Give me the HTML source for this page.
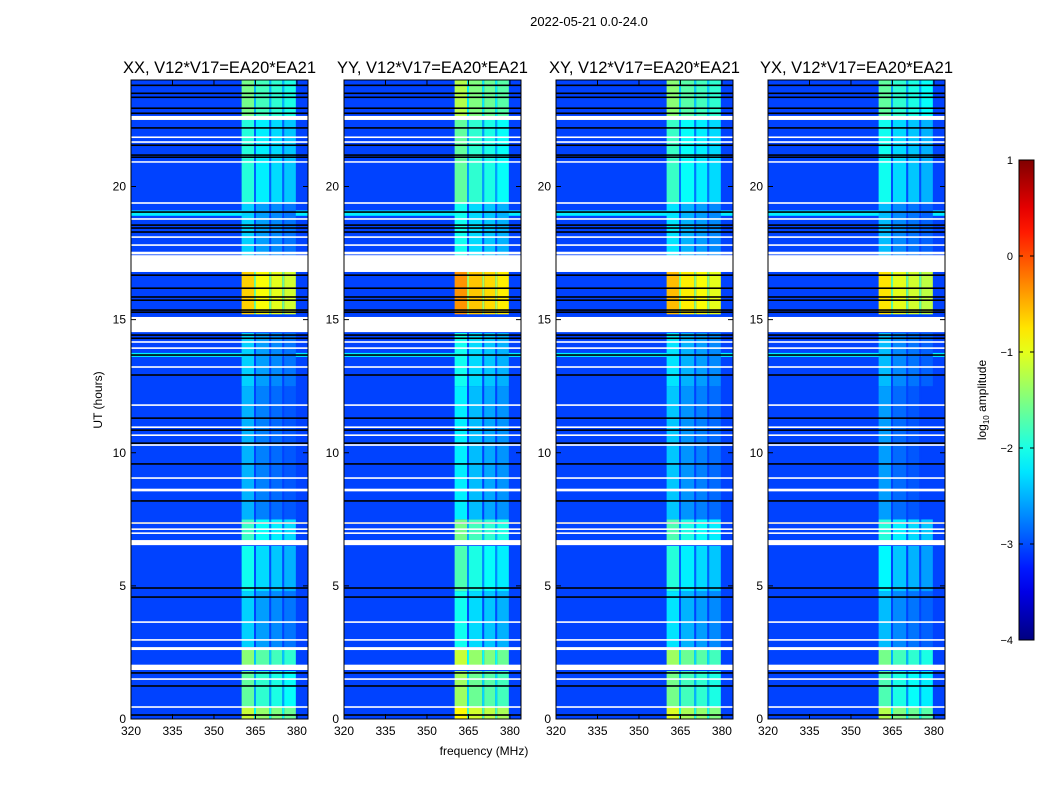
<!DOCTYPE html>
<html><head><meta charset="utf-8">
<style>
body{margin:0;background:#fff;width:1050px;height:800px;overflow:hidden;font-family:"Liberation Sans","DejaVu Sans",sans-serif;}
svg text{font-family:"Liberation Sans","DejaVu Sans",sans-serif;}
</style></head>
<body>
<svg id="fig" width="1050" height="800" xmlns="http://www.w3.org/2000/svg">
<text x="589" y="26" font-size="13" text-anchor="middle">2022-05-21 0.0-24.0</text>
<text x="484" y="755" font-size="12" text-anchor="middle">frequency (MHz)</text>
<text x="102" y="400" font-size="12" text-anchor="middle" transform="rotate(-90 102 400)">UT (hours)</text>
<g id="panels"></g>
<g id="cbar"></g>
</svg>
<script>
// ---- data ----
const panelNames = ["XX, V12*V17=EA20*EA21","YY, V12*V17=EA20*EA21","XY, V12*V17=EA20*EA21","YX, V12*V17=EA20*EA21"];
const panelOffsets = [0, 0.3, 0.1, -0.1];
const baseLevel = -3.05;
// RFI time segments: [startHour, endHour, log10 amplitude in RFI band]
const rfiSegments = [[0,0.45,-1.4],[0.45,1.8,-1.9],[1.9,2.6,-1.7],[2.7,4.8,-2.6],[4.8,6.5,-2.3],[6.7,7.5,-2.1],[7.5,12.5,-2.75],[12.5,14.5,-2.6],[15.2,16.8,-0.9],[17.4,19.4,-2.6],[19.4,21,-2.2],[21,22.6,-2.2],[22.6,24,-1.8]];
// frequency sub-bands: [startMHz, endMHz, offset]
const freqBands = [[360,364.5,0.25],[364.5,365.2,-0.7],[365.2,370,0],[370,370.7,-0.7],[370.7,374.7,-0.1],[374.7,375.4,-0.7],[375.4,379.6,-0.2]];
// broadband enhanced rows: [start, end, level]
const broadRows = [[18.9,19.1,-2.2],[13.6,13.75,-2.2]];
// flagged (white) time ranges
const flagged = [[22.5,22.65],[21.82,21.88],[21.64,21.7],[20.9,20.95],[19.35,19.41],[18.75,18.81],[18.07,18.13],[17.77,17.83],[17.45,17.55],[16.79,17.42],[14.53,15.1],[14.13,14.19],[13.9,13.96],[13.19,13.25],[11.76,11.82],[10.93,10.99],[10.63,10.69],[10.26,10.32],[9.02,9.08],[8.55,8.65],[7.33,7.39],[7.1,7.16],[6.95,7.01],[6.53,6.72],[3.61,3.67],[2.94,3.0],[2.59,2.7],[1.84,2.04],[1.47,1.53],[0.42,0.48]];
// black (zero) rows
const blackRows = [23.8,23.5,23.35,22.94,22.75,22.2,21.55,21.18,21.1,19.04,18.55,18.44,18.29,16.67,16.18,15.85,15.73,15.36,15.28,14.42,14.3,13.67,12.92,11.3,10.85,10.36,9.58,8.19,7.36,4.92,4.58,1.73,1.24,0.15];
const xTicks = [320,335,350,365,380];
const yTicks = [0,5,10,15,20];
const cbTicks = [1,0,-1,-2,-3,-4];
// ---- layout ----
const panelX = [131,344,556,768], pw = 177, axTop = 80, axBottom = 719;
const fMin = 320, fMax = 384, tMax = 24;
const NS = "http://www.w3.org/2000/svg";
function jet(v){
  const r = Math.min(Math.max(Math.min(4*v-1.5,-4*v+4.5),0),1);
  const g = Math.min(Math.max(Math.min(4*v-0.5,-4*v+3.5),0),1);
  const b = Math.min(Math.max(Math.min(4*v+0.5,-4*v+2.5),0),1);
  return `rgb(${Math.round(r*255)},${Math.round(g*255)},${Math.round(b*255)})`;
}
function col(lv){ return jet((lv+4)/5); }
function mk(tag, attrs, parent){ const e=document.createElementNS(NS,tag); for(const k in attrs) e.setAttribute(k,attrs[k]); parent.appendChild(e); return e; }
const G = document.getElementById('panels');
panelNames.forEach((name,pi)=>{
  const x0 = panelX[pi];
  const sx = f => x0 + (f-fMin)/(fMax-fMin)*pw;
  const sy = t => axBottom - t/tMax*(axBottom-axTop);
  const g = mk('g',{},G);
  
  
  const bg = mk('rect',{x:x0,y:axTop,width:pw,height:axBottom-axTop,fill:col(baseLevel)},g);
  
  
  broadRows.forEach(r=>{
    const e = mk('rect',{x:x0,y:sy(r[1]),width:pw,height:sy(r[0])-sy(r[1]),fill:col(r[2])},g);
    
    
  });
  rfiSegments.forEach(s=>{
    freqBands.forEach(b=>{
      const lv = Math.max(baseLevel, s[2]+panelOffsets[pi]+b[2]);
      const e = mk('rect',{x:sx(b[0]),y:sy(s[1]),width:sx(b[1])-sx(b[0]),height:sy(s[0])-sy(s[1]),fill:col(lv)},g);
      
      
    });
  });
  blackRows.forEach(t=>{
    const e = mk('rect',{x:x0,y:sy(t)-0.8,width:pw,height:1.6,fill:'#000'},g);
    
    
  });
  flagged.forEach(r=>{
    const e = mk('rect',{x:x0,y:sy(r[1]),width:pw,height:Math.max(1.5,sy(r[0])-sy(r[1])),fill:'#fff'},g);
    
    
  });
  const fr = mk('rect',{x:x0,y:axTop,width:pw,height:axBottom-axTop,fill:'none',stroke:'#000','stroke-width':1},g);
  
  
  const tt = mk('text',{x:x0+pw/2,y:axTop-7,'font-size':16.5,'text-anchor':'middle'},g);
  tt.textContent = name;
  
  
  xTicks.forEach(f=>{
    mk('line',{x1:sx(f),x2:sx(f),y1:axBottom,y2:axBottom-5,stroke:'#000'},g);
    mk('line',{x1:sx(f),x2:sx(f),y1:axTop,y2:axTop+5,stroke:'#000'},g);
    const t = mk('text',{x:sx(f),y:axBottom+16,'font-size':12,'text-anchor':'middle'},g);
    t.textContent = f;
    
    
  });
  yTicks.forEach(v=>{
    mk('line',{x1:x0,x2:x0+5,y1:sy(v),y2:sy(v),stroke:'#000'},g);
    mk('line',{x1:x0+pw,x2:x0+pw-5,y1:sy(v),y2:sy(v),stroke:'#000'},g);
    const t = mk('text',{x:x0-5,y:sy(v)+4,'font-size':12,'text-anchor':'end'},g);
    t.textContent = v;
    
    
  });
});
// colorbar
const C = document.getElementById('cbar');
const cx=1019, cw=15, ct=160, cb=640;
const defs = mk('defs',{},C);
const grad = mk('linearGradient',{id:'jetg',x1:0,y1:1,x2:0,y2:0},defs);
for(let i=0;i<=20;i++){ mk('stop',{offset:i/20,'stop-color':jet(i/20)},grad); }
const cr = mk('rect',{x:cx,y:ct,width:cw,height:cb-ct,fill:'url(#jetg)',stroke:'#000','stroke-width':1},C);


cbTicks.forEach(v=>{
  const y = cb - (v+4)/5*(cb-ct);
  mk('line',{x1:cx,x2:cx+4,y1:y,y2:y,stroke:'#000'},C);
  mk('line',{x1:cx+cw,x2:cx+cw-4,y1:y,y2:y,stroke:'#000'},C);
  const t = mk('text',{x:cx-6,y:y+4,'font-size':11,'text-anchor':'end'},C);
  t.textContent = v<0 ? '\u2212'+(-v) : v;
  
  
});
const cl = mk('text',{x:986,y:400,'font-size':12,'text-anchor':'middle',transform:'rotate(-90 986 400)'},C);
cl.innerHTML = 'log<tspan font-size="8" dy="3">10</tspan><tspan dy="-3"> amplitude</tspan>';


</script>
</body></html>
